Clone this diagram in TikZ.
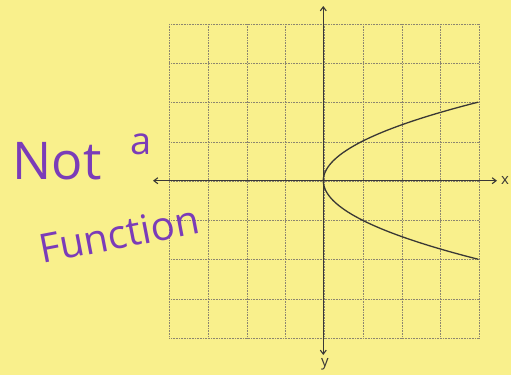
\documentclass[tikz,border=0pt]{standalone}
\usepackage{fontspec}
\setmainfont{Open Sans}
\usetikzlibrary{arrows.meta}
\definecolor{paper}{HTML}{F9F08C}
\definecolor{ink}{HTML}{7B3CB8}
\definecolor{axis}{HTML}{3A3835}
\definecolor{gridc}{HTML}{8C8670}
\begin{document}
\begin{tikzpicture}[x=1pt,y=-1pt,
  gridline/.style={draw=gridc, line width=0.6pt, dash pattern=on 1pt off 0.6pt},
  axisline/.style={draw=axis, line width=1.1pt, {Straight Barb[length=4pt,width=6pt]}-{Straight Barb[length=4pt,width=6pt]}},
  curve/.style={draw=axis, line width=1.3pt},
  hand/.style={text=ink, inner sep=0pt, font=\fontsize{40}{40}\selectfont},
  axlab/.style={text=axis, inner sep=0pt, font=\fontsize{15}{15}\selectfont}]
\useasboundingbox (0,0) rectangle (511,375);
\fill[paper] (0,0) rectangle (511,375);
% grid
\foreach \i in {0,...,8}
  \draw[gridline] ({169.3+38.75*\i},24) -- ({169.3+38.75*\i},338.3);
\foreach \j in {0,...,8}
  \draw[gridline] (169.3,{24+39.29*\j}) -- (479.3,{24+39.29*\j});
% axes
\coordinate (xl) at (153,180.7);
\coordinate (xr) at (497,180.7);
\coordinate (yt) at (323.3,6);
\coordinate (yb) at (323.3,355);
\draw[axisline] (xl) -- (xr);
\draw[axisline] (yt) -- (yb);
\node[axlab] (xlab) at (505,180) {x};
\node[axlab] (ylab) at (325,364) {y};
% parabola x = y^2
\draw[curve] plot[domain=-2:2, samples=81, smooth] ({323.3+38.75*\x*\x},{180.7-39.29*\x});
% handwritten text
\node[hand, font=\fontsize{52}{52}\selectfont] (not) at (57,161) {Not};
\node[hand, font=\fontsize{38}{38}\selectfont] (a) at (141,144) {a};
\node[hand, rotate=11] (func) at (119,234) {Function};
\end{tikzpicture}
\end{document}
